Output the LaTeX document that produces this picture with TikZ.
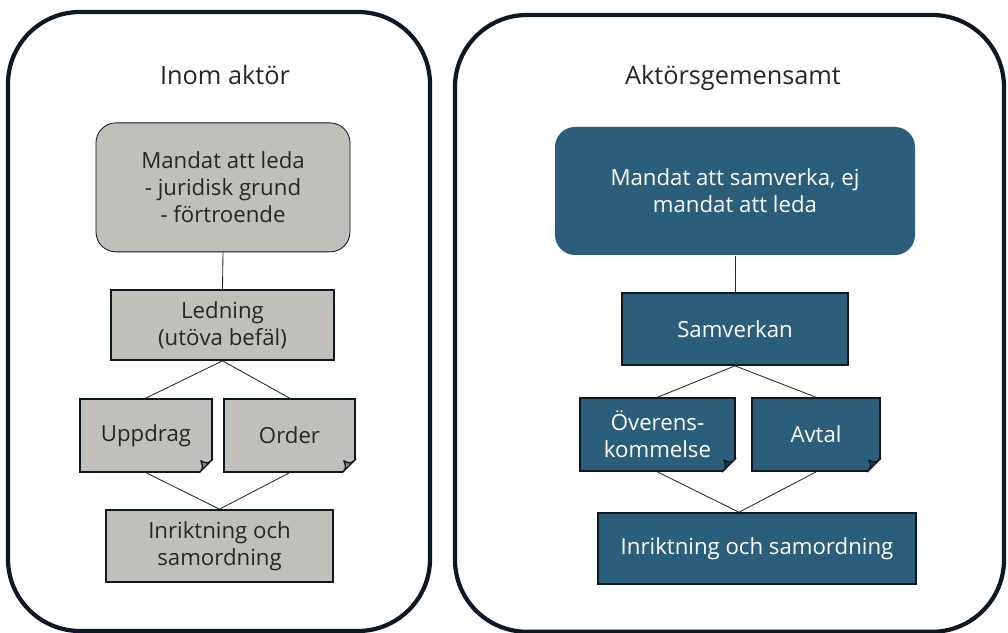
\documentclass[tikz,border=0pt]{standalone}
\usepackage{fontspec}
\setmainfont{Open Sans}
\usepackage{tikz}
\usetikzlibrary{calc}
\definecolor{framec}{RGB}{12, 24, 36}
\definecolor{greyc}{RGB}{192, 192, 187}
\definecolor{greyfold}{RGB}{130, 132, 130}
\definecolor{bluec}{RGB}{42, 94, 122}
\definecolor{bluefold}{RGB}{24, 60, 82}
\definecolor{textc}{RGB}{38, 38, 38}

\begin{document}
\begin{tikzpicture}[
  font=\fontsize{15.8}{19.2}\selectfont,
  frame/.style={draw=framec, line width=3pt, rounded corners=1.8cm},
  title/.style={text=textc, font=\fontsize{18}{21}\selectfont},
  greybox/.style={rectangle, draw=framec, line width=1.2pt, fill=greyc, text=textc, align=center},
  bluebox/.style={rectangle, draw=framec, line width=1.2pt, fill=bluec, text=white, align=center},
  link/.style={draw=textc, line width=0.6pt}
]
\useasboundingbox (0,0) rectangle (25.2,15.825);

% ramar
\draw[frame] (0.2,0.05) rectangle (10.75,15.525);
\draw[frame] (11.375,0.03) rectangle (25.1,15.45);

\node[title] (titleL) at (5.625,13.95) {Inom aktör};
\node[title] (titleR) at (18.325,13.875) {Aktörsgemensamt};

% inom aktör
\node[greybox, line width=0.6pt, rounded corners=0.5cm, minimum width=6.35cm, minimum height=3.225cm] (mandatL) at (5.575,11.14) {Mandat att leda\\- juridisk grund\\- förtroende};
\node[greybox, minimum width=5.575cm, minimum height=1.75cm] (ledning) at (5.5625,7.7) {Ledning\\(utöva befäl)};
\node[greybox, minimum width=3.3cm, minimum height=1.825cm] (uppdrag) at (3.65,4.94) {Uppdrag};
\node[greybox, minimum width=3.275cm, minimum height=1.825cm] (order) at (7.2375,4.94) {Order};
\node[greybox, minimum width=5.675cm, minimum height=1.8cm] (inriktL) at (5.4875,2.175) {Inriktning och\\samordning};

\draw[link] (mandatL.south) -- (ledning.north);
\draw[link] (ledning.south) -- (uppdrag.north);
\draw[link] (ledning.south) -- (order.north);
\draw[link] (uppdrag.south) -- (inriktL.north);
\draw[link] (order.south) -- (inriktL.north);

% aktörsgemensamt
\node[bluebox, draw=none, rounded corners=0.5cm, minimum width=9cm, minimum height=3.2cm] (mandatR) at (18.375,11.05) {Mandat att samverka, ej\\mandat att leda};
\node[bluebox, minimum width=5.65cm, minimum height=1.8cm] (samverkan) at (18.375,7.6) {Samverkan};
\node[bluebox, minimum width=3.875cm, minimum height=1.825cm] (overens) at (16.4375,4.96) {Överens-\\kommelse};
\node[bluebox, minimum width=3.2cm, minimum height=1.825cm] (avtal) at (20.4,4.96) {Avtal};
\node[bluebox, minimum width=7.95cm, minimum height=1.775cm] (inriktR) at (18.925,2.11) {Inriktning och samordning};
\coordinate (joinR) at ($(inriktR.north)+(-0.45,0)$);

\draw[link] (mandatR.south) -- (samverkan.north);
\draw[link] (samverkan.south) -- (overens.north);
\draw[link] (samverkan.south) -- (avtal.north);
\draw[link] (overens.south) -- (joinR);
\draw[link] (avtal.south) -- (joinR);

% vikta hörn
\foreach \n/\c in {uppdrag/greyfold, order/greyfold, overens/bluefold, avtal/bluefold} {
  \fill[white] ($(\n.south east)+(-0.38,-0.05)$) -- ($(\n.south east)+(0.05,-0.05)$) -- ($(\n.south east)+(0.05,0.38)$) -- cycle;
  \filldraw[fill=\c, draw=framec, line width=0.9pt, line join=round] ($(\n.south east)+(-0.34,0)$) -- ($(\n.south east)+(0,0.34)$) .. controls ($(\n.south east)+(-0.14,0.22)$) .. ($(\n.south east)+(-0.3,0.3)$) .. controls ($(\n.south east)+(-0.24,0.12)$) .. cycle;
}
\end{tikzpicture}
\end{document}
